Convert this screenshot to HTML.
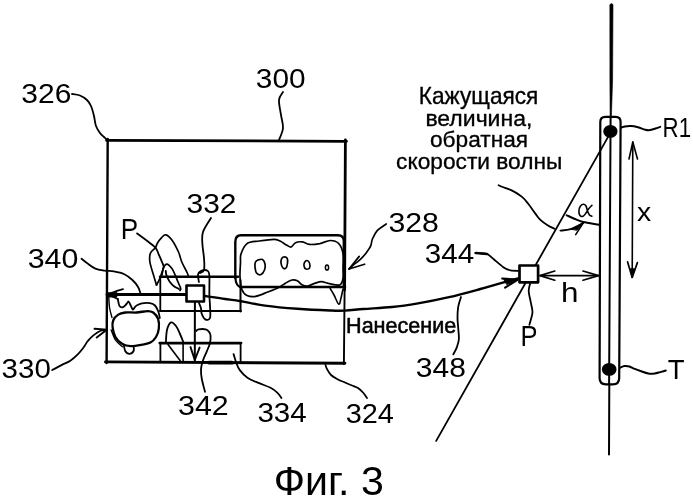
<!DOCTYPE html>
<html><head><meta charset="utf-8"><style>
html,body{margin:0;padding:0;background:#fff;}
svg{display:block;filter:grayscale(1);}
text{font-family:"Liberation Sans", sans-serif;fill:#000;stroke:none;}
</style></head><body>
<svg width="693" height="500" viewBox="0 0 693 500">
<g stroke="#000" stroke-linecap="round" stroke-linejoin="round" fill="none">
<line x1="106.5" y1="140.3" x2="346.5" y2="141.3" stroke-width="2.8"/>
<line x1="107.7" y1="139" x2="106.6" y2="363" stroke-width="2.4"/>
<line x1="345.4" y1="140" x2="344.6" y2="290" stroke-width="2.8"/>
<line x1="344.6" y1="290" x2="343.9" y2="364" stroke-width="1.9"/>
<line x1="105.5" y1="361.9" x2="344.9" y2="363.3" stroke-width="2.9"/>
<line x1="209" y1="362.6" x2="232" y2="362.7" stroke-width="3.8"/>
<path d="M72.0 94.0 C73.3 94.2 77.5 94.5 80.0 95.5 C82.5 96.5 85.2 98.2 87.0 100.0 C88.8 101.8 89.8 103.3 91.0 106.0 C92.2 108.7 93.2 112.7 94.0 116.0 C94.8 119.3 95.0 123.2 96.0 126.0 C97.0 128.8 98.7 131.2 100.0 133.0 C101.3 134.8 102.8 135.8 104.0 137.0 C105.2 138.2 106.9 139.9 107.5 140.5" stroke-width="1.8" fill="none"/>
<path d="M283.0 92.0 C282.3 93.3 279.3 96.2 279.0 100.0 C278.7 103.8 280.3 110.3 281.0 115.0 C281.7 119.7 283.3 123.8 283.0 128.0 C282.7 132.2 279.7 138.0 279.0 140.0" stroke-width="1.8" fill="none"/>
<path d="M81.5 258.7 C82.5 259.5 85.0 261.6 87.3 263.3 C89.6 265.0 92.5 267.4 95.4 268.6 C98.3 269.8 101.5 270.1 104.6 270.6 C107.7 271.1 110.6 270.8 113.9 271.4 C117.2 272.0 121.2 272.8 124.3 274.2 C127.4 275.6 130.1 277.9 132.4 280.0 C134.7 282.1 136.8 284.8 138.1 287.0 C139.4 289.2 140.0 292.2 140.4 293.3" stroke-width="1.8" fill="none"/>
<path d="M52.2 370.0 C53.8 369.2 58.5 366.7 61.5 365.1 C64.5 363.6 67.5 362.5 70.3 360.7 C73.0 358.9 75.8 356.3 78.0 354.1 C80.2 351.9 81.8 349.7 83.5 347.5 C85.2 345.3 86.2 342.9 87.9 340.9 C89.6 338.9 91.4 337.0 93.4 335.4 C95.4 333.8 98.1 331.9 100.0 331.0 C101.9 330.1 104.2 330.1 105.0 329.9" stroke-width="1.8" fill="none"/>
<path d="M205.0 391.8 C204.5 389.7 202.5 382.7 201.8 379.0 C201.1 375.3 200.9 372.3 201.0 369.4 C201.1 366.5 201.7 364.3 202.6 361.4 C203.5 358.5 205.4 354.7 206.6 351.8 C207.8 348.9 209.1 346.5 209.8 343.8 C210.5 341.1 210.7 337.8 210.6 335.8 C210.5 333.8 209.8 332.9 209.0 331.8 C208.2 330.7 207.5 329.8 205.8 329.4 C204.1 329.0 200.2 329.1 198.6 329.4 C197.0 329.7 196.6 330.7 196.2 331.0" stroke-width="1.8" fill="none"/>
<path d="M281.4 398.0 C280.8 397.1 279.3 394.6 277.5 392.9 C275.7 391.2 273.7 389.4 270.6 387.8 C267.6 386.2 263.0 384.8 259.2 383.2 C255.4 381.6 251.0 380.3 247.8 378.1 C244.6 375.9 241.7 372.6 239.8 370.1 C237.9 367.6 237.4 365.9 236.4 363.2 C235.4 360.5 234.1 355.6 233.6 354.1" stroke-width="1.8" fill="none"/>
<path d="M367.0 398.0 C366.3 397.1 364.5 394.2 363.0 392.5 C361.5 390.8 359.8 389.2 358.0 388.0 C356.2 386.8 354.2 386.4 352.0 385.5 C349.8 384.6 347.3 383.5 345.0 382.5 C342.7 381.5 340.3 380.8 338.0 379.5 C335.7 378.2 332.8 376.8 331.0 375.0 C329.2 373.2 327.9 370.7 327.0 369.0 C326.1 367.3 325.8 365.7 325.5 365.0" stroke-width="1.8" fill="none"/>
<path d="M211.0 218.0 C209.7 220.3 204.4 227.7 203.0 232.0 C201.6 236.3 202.2 239.7 202.4 244.0 C202.6 248.3 203.7 253.7 204.0 258.0 C204.3 262.3 204.7 267.5 204.0 270.0 C203.3 272.5 200.7 272.5 200.0 273.0" stroke-width="1.8" fill="none"/>
<path d="M386.2 224.0 C384.7 225.1 379.5 228.1 377.2 230.6 C374.9 233.1 373.5 236.4 372.4 239.0 C371.3 241.6 371.7 243.8 370.6 246.2 C369.5 248.6 367.5 251.2 365.8 253.4 C364.1 255.6 362.3 257.6 360.4 259.4 C358.5 261.2 356.3 262.6 354.4 264.2 C352.5 265.8 349.9 268.2 349.0 269.0" stroke-width="1.7" fill="none"/>
<path d="M359.2 256.4 L349.0 269.0 L364.6 264.2" stroke-width="1.7" fill="none"/>
<path d="M94.5 328.8 L107.0 329.6 L96.7 337.6" stroke-width="1.9" fill="none"/>
<line x1="160" y1="276.8" x2="238" y2="276.8" stroke-width="2.5"/>
<line x1="160.3" y1="276.8" x2="160.3" y2="311" stroke-width="1.8"/>
<line x1="160" y1="311" x2="241" y2="311" stroke-width="2"/>
<line x1="240.5" y1="280" x2="240.5" y2="311.5" stroke-width="2"/>
<line x1="159.8" y1="343.1" x2="241" y2="343.1" stroke-width="2.8"/>
<line x1="160.4" y1="343" x2="160.4" y2="362" stroke-width="1.8"/>
<line x1="240.6" y1="343" x2="240.6" y2="362" stroke-width="1.8"/>
<line x1="183.1" y1="343" x2="183.1" y2="362" stroke-width="1.6"/>
<line x1="107" y1="294.5" x2="186" y2="294.5" stroke-width="2.8"/>
<path d="M123.0 289.2 L117.0 290.8 L109.0 294.0" stroke-width="1.8" fill="none"/>
<path d="M109.0 295.0 L117.8 299.0" stroke-width="1.8" fill="none"/>
<path d="M108 292.5 L117 292.3 L117 297.2 L108 297.2Z" fill="#000" stroke-width="0.5"/>
<line x1="194.9" y1="302" x2="194.8" y2="361" stroke-width="2"/>
<path d="M190.5 347.1 L194.8 360.0 L199.6 347.6" stroke-width="1.9" fill="none"/>
<path d="M205.0 296.0 C206.0 296.1 207.5 296.4 210.8 296.9 C214.1 297.4 219.9 298.3 225.0 299.0 C230.1 299.7 234.4 300.1 241.1 301.2 C247.8 302.3 255.6 304.3 265.0 305.6 C274.4 306.9 286.6 308.0 297.4 308.8 C308.2 309.6 322.0 310.2 329.9 310.5 C337.8 310.8 339.4 310.9 345.0 310.6 C350.6 310.4 355.6 309.6 363.4 309.0 C371.2 308.4 382.9 307.9 392.0 307.0 C401.1 306.1 408.5 305.0 418.0 303.4 C427.5 301.8 438.6 299.6 449.0 297.2 C459.4 294.8 470.8 291.6 480.3 289.0 C489.8 286.4 499.9 283.4 506.2 281.7 C512.5 279.9 516.0 279.0 518.0 278.5" stroke-width="2.4" fill="none"/>
<path d="M502.2 278.6 L518.0 279.6 L505.1 287.6" stroke-width="2.0" fill="none"/>
<path d="M504 279 L518 279.6 L507 284.5Z" fill="#000" stroke-width="1"/>
<path d="M235.3 278 L235.3 242 Q235.3 235.3 241 235.3 L338 235.3 Q343.8 235.3 343.8 241 L343.8 287" stroke-width="2.4"/>
<path d="M235.3 277 Q235.8 286.5 241 287" stroke-width="2.2"/>
<line x1="240" y1="287" x2="345" y2="287" stroke-width="2.6"/>
<path d="M241.0 254.0 C242.1 250.8 244.0 245.8 247.0 243.6 C250.0 241.4 254.7 241.7 259.2 241.0 C263.7 240.3 270.4 239.3 273.9 239.3 C277.4 239.3 277.8 240.0 280.0 241.0 C282.2 242.0 285.0 244.3 286.9 245.3 C288.8 246.3 289.8 247.4 291.2 247.0 C292.6 246.6 293.6 243.5 295.5 242.7 C297.4 241.8 300.2 241.6 302.5 241.9 C304.8 242.2 306.5 244.1 309.4 244.4 C312.3 244.7 316.3 244.2 319.8 243.6 C323.3 242.9 327.0 240.5 330.2 240.5 C333.4 240.5 336.6 241.3 338.8 243.6 C341.0 245.8 342.4 249.9 343.1 254.0 C343.8 258.1 343.1 264.0 343.1 268.0 C343.1 272.0 343.7 275.4 343.1 278.2 C342.5 281.0 342.1 284.1 339.7 285.0 C337.2 285.9 331.4 283.9 328.4 283.4 C325.4 282.8 323.8 281.7 321.5 281.7 C319.2 281.7 316.9 282.7 314.6 283.4 C312.3 284.1 309.7 285.7 307.7 286.0 C305.7 286.3 304.2 286.0 302.5 285.1 C300.8 284.2 299.1 281.7 297.3 280.8 C295.6 279.9 294.0 279.6 292.0 280.0 C290.0 280.4 287.4 282.1 285.1 283.4 C282.8 284.7 281.1 286.3 278.2 287.7 C275.3 289.1 271.6 290.6 267.8 292.0 C264.1 293.4 259.2 295.8 255.7 296.4 C252.2 297.0 249.3 296.6 247.0 295.5 C244.7 294.4 243.1 292.7 241.9 289.5 C240.7 286.3 240.2 281.0 240.0 276.5 C239.8 272.0 240.3 266.4 240.5 262.6 C240.7 258.9 239.9 257.2 241.0 254.0Z" stroke-width="1.7" fill="none"/>
<path d="M330.2 288.5 C330.8 289.6 332.6 292.4 334.0 295.0 C335.4 297.6 337.6 303.7 338.8 304.2 C340.0 304.7 340.3 300.5 341.0 298.0 C341.7 295.5 342.7 290.5 343.0 289.0" stroke-width="1.6" fill="none"/>
<path d="M258.0 260.0 C259.2 259.6 261.3 258.8 262.5 259.5 C263.7 260.2 264.7 262.2 265.0 264.0 C265.3 265.8 265.2 268.2 264.5 270.0 C263.8 271.8 262.3 274.0 261.0 274.5 C259.7 275.0 257.5 274.2 256.5 273.0 C255.5 271.8 255.2 268.8 255.0 267.0 C254.8 265.2 255.0 263.2 255.5 262.0 C256.0 260.8 256.8 260.4 258.0 260.0Z" stroke-width="1.7" fill="none"/>
<path d="M283.5 257.0 C284.4 256.8 286.3 257.0 287.0 258.0 C287.7 259.0 287.7 261.3 287.5 263.0 C287.3 264.7 286.8 267.2 286.0 268.0 C285.2 268.8 283.8 268.8 283.0 268.0 C282.2 267.2 281.2 264.5 281.0 263.0 C280.8 261.5 281.1 260.0 281.5 259.0 C281.9 258.0 282.6 257.2 283.5 257.0Z" stroke-width="1.7" fill="none"/>
<path d="M307.0 260.5 C307.8 260.6 309.1 261.8 309.5 263.0 C309.9 264.2 310.1 267.0 309.5 268.0 C308.9 269.0 306.9 269.3 306.0 269.0 C305.1 268.7 304.2 267.1 304.0 266.0 C303.8 264.9 304.0 263.4 304.5 262.5 C305.0 261.6 306.2 260.4 307.0 260.5Z" stroke-width="1.6" fill="none"/>
<ellipse cx="327" cy="267.5" rx="1.6" ry="2.6" stroke-width="1.5"/>
<path d="M137.1 233.4 C138.6 234.5 142.9 237.6 146.0 240.0 C149.1 242.4 153.3 245.3 155.4 247.7 C157.5 250.1 157.6 251.9 158.7 254.3 C159.8 256.7 161.2 260.0 162.0 262.0 C162.8 264.0 163.5 264.9 163.6 266.4 C163.7 267.9 163.1 268.8 162.5 270.8 C161.9 272.8 160.8 276.1 159.8 278.5 C158.8 280.9 157.1 283.9 156.5 285.0" stroke-width="1.8" fill="none"/>
<path d="M188.4 276.3 C188.2 275.8 188.4 275.4 187.3 273.0 C186.2 270.6 183.3 265.5 181.8 262.0 C180.3 258.5 180.2 255.7 178.5 252.0 C176.8 248.3 174.0 242.9 171.9 240.0 C169.8 237.1 167.5 235.2 165.8 234.8 C164.1 234.4 163.0 236.2 161.6 237.6 C160.2 239.0 158.5 241.3 157.5 243.0 C156.5 244.7 156.6 246.0 155.4 247.7 C154.2 249.4 151.3 250.8 150.4 253.2 C149.5 255.6 149.4 258.5 149.9 262.0 C150.4 265.5 152.1 270.2 153.2 274.0 C154.3 277.8 155.9 283.2 156.5 285.0" stroke-width="1.7" fill="none"/>
<path d="M162.0 275.0 C162.2 273.8 162.7 269.8 163.5 268.0 C164.3 266.2 165.5 264.1 166.9 264.2 C168.3 264.3 170.5 266.8 171.9 268.6 C173.3 270.4 174.2 273.0 175.2 275.2 C176.2 277.4 177.0 279.6 177.9 281.8 C178.8 284.0 180.3 286.9 180.7 288.4 C181.0 289.8 180.1 290.1 180.0 290.5" stroke-width="1.7" fill="none"/>
<path d="M165.8 270.8 C165.9 271.5 165.8 273.4 166.4 275.2 C167.1 277.0 168.4 280.0 169.7 281.8 C171.0 283.6 172.4 285.0 174.0 286.2 C175.6 287.4 178.2 288.5 179.0 289.0" stroke-width="1.8" fill="none"/>
<path d="M198.9 282.0 C198.8 280.7 197.6 275.9 198.2 274.0 C198.8 272.1 200.8 270.9 202.4 270.4 C204.0 269.9 206.8 270.2 208.0 271.1 C209.2 272.0 209.2 273.7 209.4 276.0 C209.6 278.3 209.4 281.7 209.4 285.0 C209.4 288.3 209.3 292.1 209.4 295.6 C209.5 299.1 209.9 302.3 210.0 306.0 C210.1 309.7 210.8 315.8 210.0 318.0 C209.2 320.2 206.6 320.1 205.2 319.4 C203.8 318.7 202.4 315.7 201.7 313.8 C201.0 311.9 201.4 310.0 201.0 308.2 C200.6 306.4 199.3 303.9 199.0 303.0" stroke-width="1.8" fill="none"/>
<path d="M118.2 314.6 C120.2 313.3 122.2 312.9 125.2 312.5 C128.2 312.1 132.7 312.7 136.4 312.5 C140.1 312.3 144.8 311.1 147.6 311.1 C150.4 311.1 151.4 311.2 153.2 312.5 C154.9 313.8 157.2 316.1 158.1 318.8 C159.0 321.5 159.2 325.6 158.8 328.6 C158.5 331.6 157.4 334.7 156.0 337.0 C154.6 339.3 152.7 341.3 150.4 342.6 C148.1 343.9 145.3 344.1 142.0 344.7 C138.7 345.3 134.1 346.2 130.8 346.1 C127.5 346.0 125.0 345.5 122.4 344.0 C119.8 342.5 117.0 339.8 115.4 337.0 C113.8 334.2 112.9 330.0 112.6 327.2 C112.2 324.4 112.4 322.3 113.3 320.2 C114.2 318.1 116.2 315.9 118.2 314.6Z" stroke-width="2.3" fill="none"/>
<path d="M123.8 344.7 C124.0 345.8 124.3 349.5 125.2 351.0 C126.1 352.5 128.0 353.8 129.4 353.8 C130.8 353.8 132.9 352.3 133.6 351.0 C134.3 349.7 133.6 346.8 133.6 346.0" stroke-width="1.8" fill="none"/>
<path d="M111.2 330.0 C111.9 331.6 113.5 337.0 115.4 339.8 C117.3 342.6 121.2 345.6 122.4 346.8" stroke-width="1.4" fill="none"/>
<path d="M108.8 297.6 C108.9 299.3 109.1 304.7 109.6 308.0 C110.1 311.3 111.6 316.0 112.0 317.6" stroke-width="1.4" fill="none"/>
<path d="M117.8 299.0 C118.1 300.2 118.6 304.6 119.5 306.0 C120.4 307.4 121.8 307.5 123.0 307.2 C124.2 306.9 125.6 304.9 126.5 304.0 C127.4 303.1 127.8 301.3 128.5 301.5 C129.2 301.7 129.8 303.6 130.5 305.0 C131.2 306.4 132.1 309.3 132.8 309.6 C133.6 309.9 134.2 307.8 135.0 307.0 C135.8 306.2 136.3 305.6 137.5 305.0 C138.7 304.4 139.9 303.6 142.0 303.3 C144.1 303.0 147.8 302.8 150.0 303.2 C152.2 303.6 153.6 304.1 155.0 305.5 C156.4 306.9 157.5 309.4 158.3 311.5 C159.1 313.6 159.6 316.9 159.8 318.0" stroke-width="1.8" fill="none"/>
<path d="M165.9 341.8 C166.1 339.8 166.2 333.2 167.0 330.0 C167.8 326.8 169.5 323.1 171.0 322.4 C172.5 321.7 174.5 324.1 176.0 326.0 C177.5 327.9 178.8 331.4 180.0 334.0 C181.2 336.6 182.7 340.5 183.2 341.8" stroke-width="1.8" fill="none"/>
<line x1="168" y1="344.5" x2="180.1" y2="360.5" stroke-width="1.6"/>
<rect x="186.5" y="285.5" width="17.5" height="16" stroke-width="2.6" fill="#fff"/>
<path d="M610 4.5 L611.5 3.5 L613 4.5 L612.6 80 L611.4 117 L610.1 117 L609.9 80 Z" fill="#000" stroke-width="0.6"/>
<line x1="610.6" y1="117" x2="609.1" y2="384" stroke-width="2.0"/>
<line x1="609.3" y1="384" x2="609" y2="454.5" stroke-width="2.0"/>
<path d="M600.3 122 Q600.3 116.9 605.3 116.9 L615.6 116.9 Q620.6 116.9 620.6 122 L619.2 378 Q619.2 384.3 612.8 384.3 L606 384.3 Q599.6 384.3 599.6 378 Z" stroke-width="2.2"/>
<ellipse cx="610.4" cy="131.4" rx="7.1" ry="6.4" fill="#000" stroke="none"/>
<ellipse cx="609.2" cy="369.4" rx="7.3" ry="6.4" fill="#000" stroke="none"/>
<line x1="611.2" y1="131.4" x2="436.2" y2="440.9" stroke-width="1.8"/>
<path d="M621.0 127.7 C621.7 127.5 623.4 126.8 625.0 126.5 C626.6 126.2 628.7 126.0 630.9 126.1 C633.1 126.2 635.6 126.7 638.0 127.3 C640.4 127.9 643.2 129.2 645.2 129.7 C647.2 130.2 648.3 130.3 650.0 130.1 C651.7 129.9 653.8 129.0 655.5 128.5 C657.2 128.0 659.4 127.2 660.2 126.9" stroke-width="2.0" fill="none"/>
<path d="M620.0 367.7 C620.8 367.4 623.0 366.3 624.5 366.1 C626.0 365.9 627.6 366.0 629.3 366.5 C631.0 367.0 632.8 368.1 634.8 368.9 C636.8 369.7 639.0 370.5 641.2 371.3 C643.5 372.1 646.0 373.1 648.3 373.5 C650.5 373.9 652.7 373.7 654.7 373.5 C656.7 373.3 658.4 372.6 660.2 372.1 C662.1 371.6 664.9 370.8 665.8 370.5" stroke-width="2.0" fill="none"/>
<line x1="632.8" y1="142" x2="632.2" y2="277" stroke-width="1.6"/>
<path d="M629.0 159.0 L632.8 142.0 L637.5 159.0" stroke-width="1.6" fill="none"/>
<path d="M627.6 261.9 L632.2 277.5 L637.4 262.6" stroke-width="1.7" fill="none"/>
<path d="M630.2 269 L632.2 278 L634.5 269Z" fill="#000" stroke-width="0.8"/>
<path d="M566.7 215.3 C568.1 215.9 572.2 217.9 575.0 219.0 C577.8 220.1 579.3 221.1 583.3 222.0 C587.3 222.9 596.5 224.2 599.1 224.7" stroke-width="2.0" fill="none"/>
<path d="M591.9 205.4 C591.3 206.0 589.5 207.7 588.5 209.0 C587.5 210.3 586.9 211.8 586.0 213.0 C585.1 214.2 584.0 215.9 583.0 216.3 C582.0 216.7 580.7 216.4 580.0 215.5 C579.3 214.6 578.8 212.6 578.9 211.0 C579.0 209.4 579.7 207.1 580.5 206.0 C581.3 204.9 582.6 204.2 583.5 204.2 C584.4 204.2 585.3 204.9 586.0 206.0 C586.7 207.1 586.9 209.5 587.5 211.0 C588.1 212.5 588.8 214.1 589.5 215.0 C590.2 215.9 591.5 216.0 591.9 216.2" stroke-width="1.6" fill="none"/>
<path d="M498.6 185.2 C499.5 185.6 501.8 186.6 504.0 187.5 C506.2 188.4 508.6 188.8 511.6 190.4 C514.6 192.0 519.2 194.6 522.0 196.9 C524.8 199.2 526.2 201.3 528.4 204.0 C530.6 206.7 533.0 210.5 535.0 213.1 C537.0 215.7 537.9 217.5 540.1 219.6 C542.3 221.7 545.6 224.0 548.0 225.5 C550.4 227.0 553.3 228.2 554.4 228.7" stroke-width="1.8" fill="none"/>
<path d="M560.4 230.6 C562.1 230.4 566.9 230.5 570.7 229.2 C574.5 227.9 581.2 223.9 583.3 222.9" stroke-width="1.8" fill="none"/>
<path d="M583.3 222.9 L575.7 234.6" stroke-width="1.6" fill="none"/>
<path d="M571 229 L583.3 222.9 L577 230Z" fill="#000" stroke-width="1"/>
<path d="M475.2 252.9 C475.9 252.9 479.6 253.2 481.0 253.3 C482.4 253.4 486.0 253.4 487.5 254.1 C489.0 254.8 492.0 257.8 493.8 259.3 C495.6 260.8 501.4 265.9 503.3 267.2 C505.2 268.5 508.7 270.0 510.5 270.4 C512.3 270.8 517.5 270.8 518.4 270.8" stroke-width="1.8" fill="none"/>
<line x1="476" y1="253" x2="487" y2="254.1" stroke-width="2.5"/>
<line x1="540" y1="275.6" x2="598.5" y2="275.6" stroke-width="1.7"/>
<path d="M554.8 271.0 L540.0 275.6 L554.8 280.2" stroke-width="1.7" fill="none"/>
<path d="M583.0 271.0 L598.5 275.6 L583.0 280.2" stroke-width="1.7" fill="none"/>
<path d="M530.1 283.5 C529.9 284.8 528.6 288.1 528.7 291.2 C528.8 294.3 530.2 298.9 530.8 302.4 C531.4 305.9 532.5 309.2 532.5 312.0 C532.5 314.8 531.5 316.9 531.0 319.0 C530.5 321.1 529.7 323.8 529.4 324.8" stroke-width="1.8" fill="none"/>
<path d="M461.0 297.0 C460.5 298.6 458.8 303.3 458.2 306.8 C457.6 310.3 457.5 314.5 457.5 318.0 C457.5 321.5 458.0 324.3 458.2 327.8 C458.4 331.3 459.1 335.7 458.9 339.0 C458.7 342.3 457.7 344.8 456.8 347.4 C455.9 350.0 453.9 353.2 453.3 354.4" stroke-width="1.8" fill="none"/>
<rect x="519.5" y="265.5" width="18.6" height="16.8" stroke-width="2.7" fill="#fff"/>
<text transform="translate(21.30 103.23) scale(0.3000 0.2718)" font-size="100">326</text>
<text transform="translate(255.81 88.02) scale(0.2981 0.2775)" font-size="100">300</text>
<text transform="translate(27.68 268.02) scale(0.3038 0.2845)" font-size="100">340</text>
<text transform="translate(1.62 378.02) scale(0.2950 0.2775)" font-size="100">330</text>
<text transform="translate(178.08 414.92) scale(0.3038 0.2845)" font-size="100">342</text>
<text transform="translate(257.42 421.62) scale(0.2956 0.2775)" font-size="100">334</text>
<text transform="translate(345.65 423.22) scale(0.2887 0.2803)" font-size="100">324</text>
<text transform="translate(186.61 213.23) scale(0.2987 0.2732)" font-size="100">332</text>
<text transform="translate(388.39 231.93) scale(0.3025 0.2704)" font-size="100">328</text>
<text transform="translate(424.82 263.22) scale(0.2956 0.2775)" font-size="100">344</text>
<text transform="translate(415.80 377.42) scale(0.3000 0.2775)" font-size="100">348</text>
<text transform="translate(120.72 238.70) scale(0.2604 0.2870)" font-size="100">P</text>
<text transform="translate(520.46 346.40) scale(0.2547 0.2870)" font-size="100">P</text>
<text transform="translate(560.90 301.68) scale(0.3143 0.2792)" font-size="100">h</text>
<text transform="translate(637.12 220.60) scale(0.2833 0.2642)" font-size="100">x</text>
<text transform="translate(662.62 136.60) scale(0.2226 0.2797)" font-size="100">R1</text>
<text transform="translate(667.75 378.60) scale(0.2754 0.2841)" font-size="100">T</text>
<text transform="translate(346.07 333.20) scale(0.2157 0.2283)" font-size="100" style="stroke:#000;stroke-width:2.5px">Нанесение</text>
<text transform="translate(418.79 103.90) scale(0.2265 0.2340)" font-size="100" style="stroke:#000;stroke-width:1.5px">Кажущаяся</text>
<text transform="translate(425.39 125.50) scale(0.2301 0.2264)" font-size="100" style="stroke:#000;stroke-width:1.5px">величина,</text>
<text transform="translate(429.99 146.50) scale(0.2268 0.2264)" font-size="100" style="stroke:#000;stroke-width:1.5px">обратная</text>
<text transform="translate(396.09 168.50) scale(0.2272 0.2245)" font-size="100" style="stroke:#000;stroke-width:1.5px">скорости волны</text>
<text transform="translate(273.83 494.60) scale(0.4117 0.4050)" font-size="100">Фиг. 3</text>
</g>
</svg>
</body></html>
